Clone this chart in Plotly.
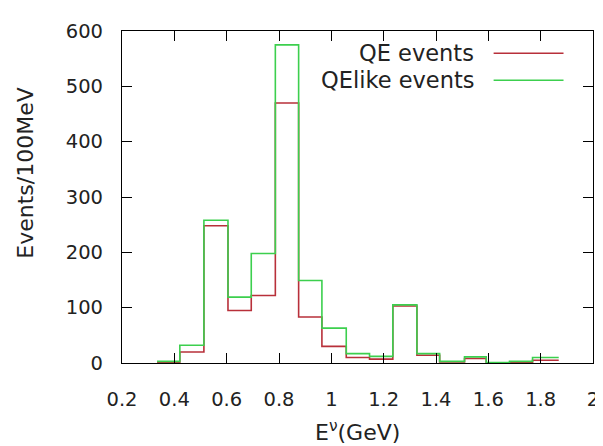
import plotly.graph_objects as go

# Bin edges (GeV)
bin_edges = [0.334, 0.421, 0.513, 0.605, 0.694, 0.786, 0.875, 0.964, 1.057,
             1.146, 1.235, 1.327, 1.414, 1.509, 1.592, 1.681, 1.769, 1.869]
qe_events = [1, 20, 248, 95, 122, 470, 83, 30, 10, 7, 103, 14, 2, 8, 0, 1, 5]
qelike_events = [3, 32, 258, 119, 198, 575, 149, 63, 17, 12, 105, 17, 3, 11, 1, 3, 10]

x_ticks = [0.2, 0.4, 0.6, 0.8, 1, 1.2, 1.4, 1.6, 1.8, 2]
x_tick_text = ["0.2", "0.4", "0.6", "0.8", "1", "1.2", "1.4", "1.6", "1.8", "2"]
y_ticks = [0, 100, 200, 300, 400, 500, 600]

series_names = ["QE events", "QElike events"]
x_title = "E<sup>ν</sup>(GeV)"
y_title = "Events/100MeV"

red = "#b8303a"
green = "#3ccf4e"
FONT = "DejaVu Sans"
TXT = "#222"

fig = go.Figure()
fig.add_trace(go.Scatter(x=bin_edges, y=qe_events + [qe_events[-1]], mode="lines",
                         line=dict(shape="hv", color=red, width=1.6),
                         name=series_names[0], showlegend=False))
fig.add_trace(go.Scatter(x=bin_edges, y=qelike_events + [qelike_events[-1]], mode="lines",
                         line=dict(shape="hv", color=green, width=1.6),
                         name=series_names[1], showlegend=False))

# gnuplot-style legend: right-aligned text with sample line to its right
legend_rows = [(0.933, red), (0.8515, green)]
for name, (ypos, col) in zip(series_names, legend_rows):
    fig.add_annotation(x=0.7523, y=ypos, xref="paper", yref="paper", text=name,
                       showarrow=False, xanchor="right", yanchor="middle",
                       font=dict(family=FONT, size=22.5, color=TXT))
    fig.add_shape(type="line", xref="paper", yref="paper", x0=0.789, x1=0.9374,
                  y0=ypos, y1=ypos, line=dict(color=col, width=1.6))

# axis titles as annotations for gnuplot-like placement
fig.add_annotation(x=0.5, y=-0.205, xref="paper", yref="paper", text=x_title,
                   showarrow=False, xanchor="center", yanchor="middle",
                   font=dict(family=FONT, size=22, color=TXT))
fig.add_annotation(x=-0.2057, y=0.5706, xref="paper", yref="paper", text=y_title,
                   showarrow=False, xanchor="center", yanchor="middle", textangle=-90,
                   font=dict(family=FONT, size=22, color=TXT))

axis_common = dict(showline=True, linecolor="black", linewidth=1.2, mirror="ticks",
                   ticks="inside", ticklen=10, tickwidth=1.2, tickcolor="black",
                   showgrid=False, zeroline=False,
                   tickfont=dict(family=FONT, size=19.5, color=TXT))

fig.update_layout(
    width=603, height=446,
    margin=dict(l=114, r=17.5, t=15, b=91),
    paper_bgcolor="white", plot_bgcolor="white",
    xaxis=dict(range=[0.2, 2], tickvals=x_ticks, ticktext=x_tick_text,
               ticklabelstandoff=18, **axis_common),
    yaxis=dict(range=[0, 600], tickvals=y_ticks, ticklabelstandoff=14,
               **axis_common),
)

fig.write_html("out.html")
